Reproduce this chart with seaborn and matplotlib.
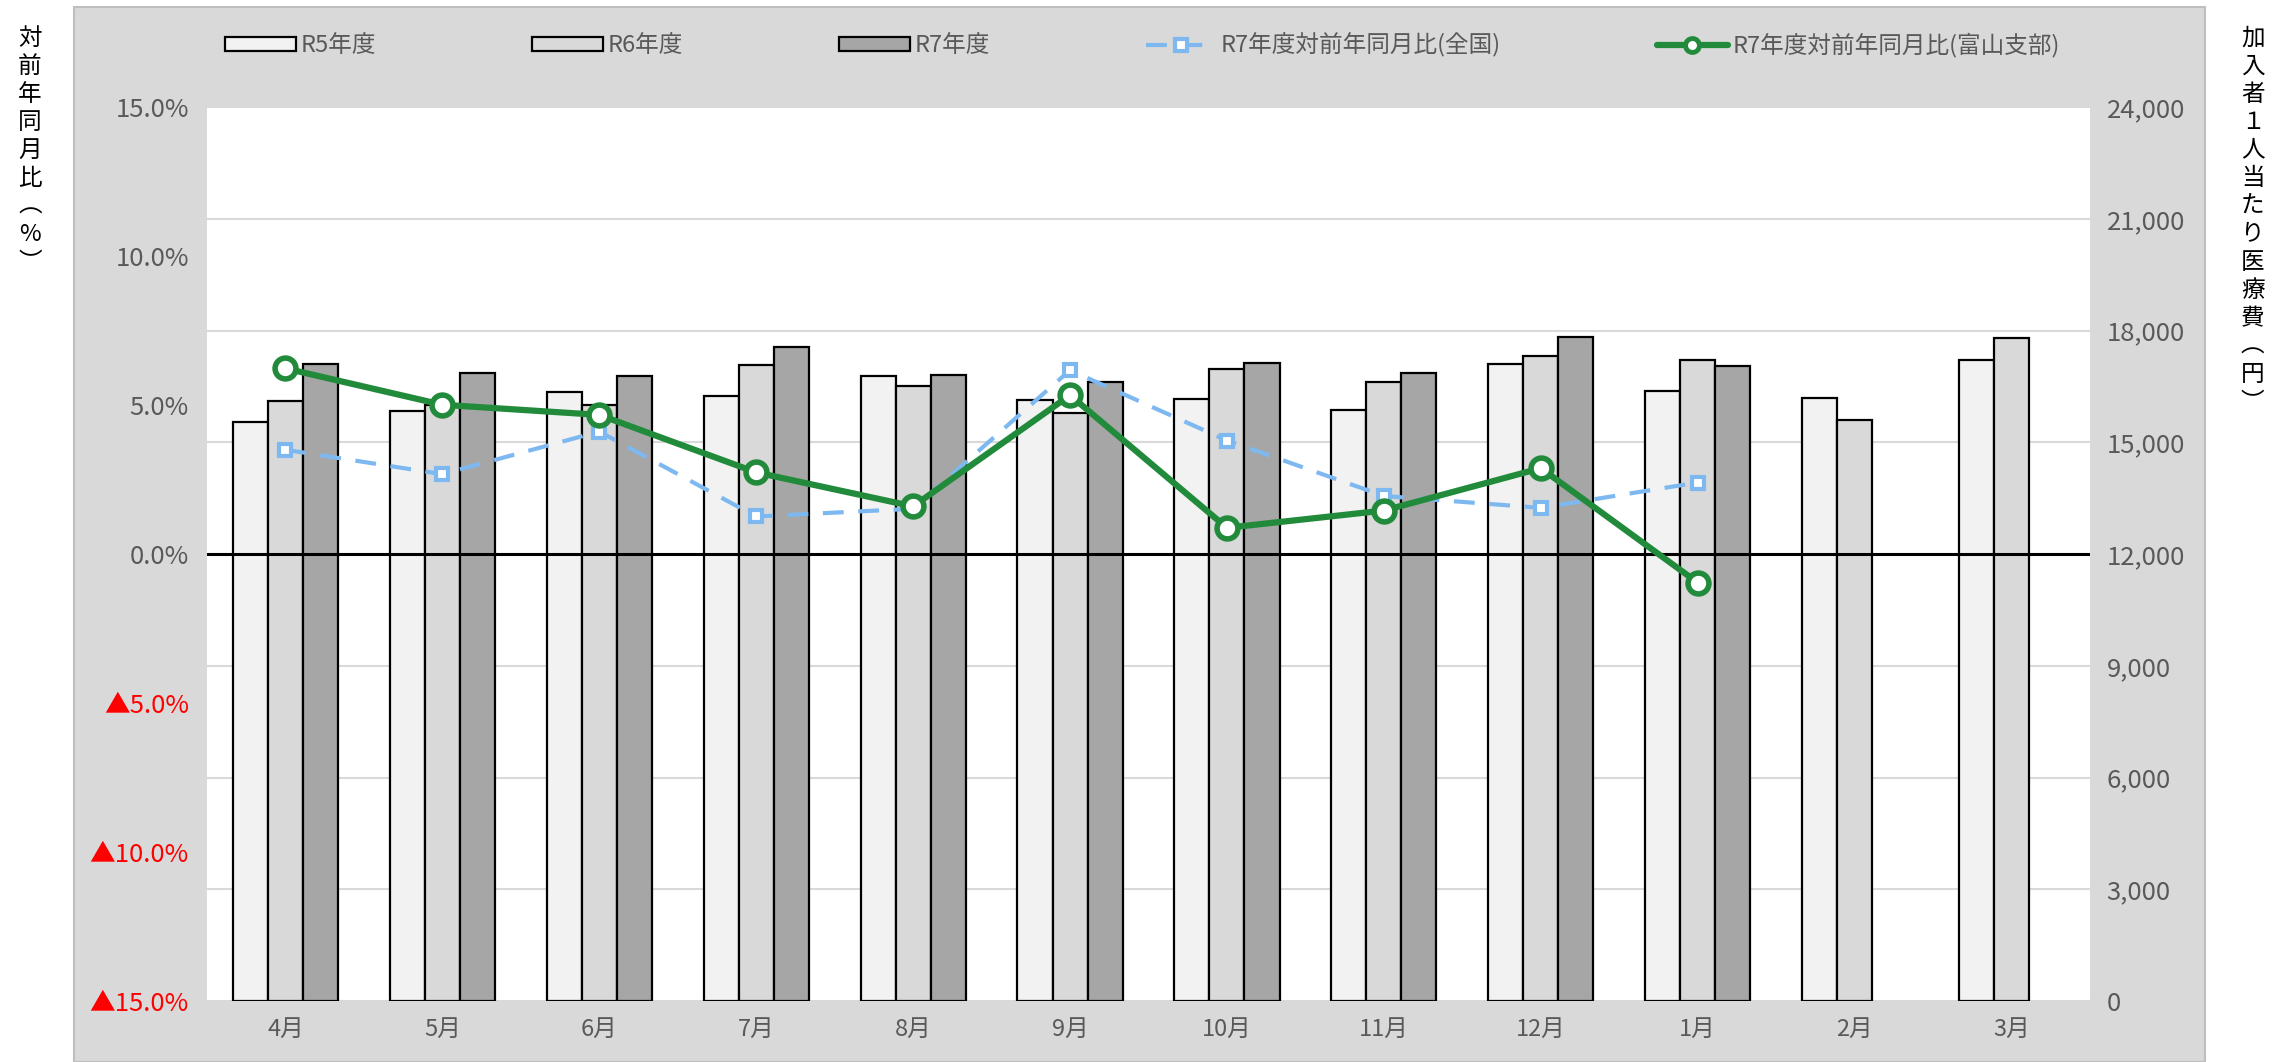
import numpy as np
import pandas as pd
import matplotlib as mpl
import matplotlib.pyplot as plt
import seaborn as sns
from matplotlib.patches import Patch, Rectangle
from matplotlib.lines import Line2D

months = ['4月', '5月', '6月', '7月', '8月', '9月', '10月', '11月', '12月', '1月', '2月', '3月']
years = ['R5年度', 'R6年度', 'R7年度']

# 加入者1人当たり医療費 (円)
cost_r5 = [15540, 15840, 16350, 16230, 16780, 16130, 16170, 15870, 17110, 16380, 16190, 17200]
cost_r6 = [16110, 16000, 16000, 17070, 16520, 15780, 16980, 16610, 17320, 17210, 15600, 17810]
cost_r7 = [17110, 16850, 16780, 17550, 16800, 16630, 17140, 16860, 17830, 17060, np.nan, np.nan]

# 対前年同月比 (%)
ratio_zenkoku = [3.50, 2.68, 4.11, 1.26, 1.52, 6.17, 3.81, 1.95, 1.55, 2.40]
ratio_toyama = [6.23, 5.01, 4.67, 2.74, 1.60, 5.33, 0.88, 1.46, 2.88, -0.96]

bar_colors = {'R5年度': '#F2F2F2', 'R6年度': '#D9D9D9', 'R7年度': '#A6A6A6'}
blue = '#7DB9F0'
green = '#228B3B'
tick_gray = '#595959'

df = pd.DataFrame({
    'month': months * 3,
    'year': [y for y in years for _ in months],
    'cost': cost_r5 + cost_r6 + cost_r7,
}).dropna()

sns.set_style('white')
plt.rcParams['font.family'] = ['Noto Sans CJK JP', 'DejaVu Sans']

fig = plt.figure(figsize=(22.94, 10.62), dpi=100)

# grey chart area
fig.patches.append(Rectangle((0.0323, 0.0), 0.929, 0.9934, transform=fig.transFigure,
                             facecolor='#D9D9D9', edgecolor='#BFBFBF', linewidth=1.5, zorder=-10))

ax = fig.add_axes([0.0902, 0.0574, 0.8209, 0.8418])
ax.set_facecolor('white')
sns.barplot(data=df, x='month', y='cost', hue='year', order=months, hue_order=years,
            palette=bar_colors, edgecolor='black', linewidth=1.6, width=0.67,
            errorbar=None, ax=ax, legend=False, zorder=2)
ax.set_ylim(0, 24000)
ax.set_yticks(np.arange(0, 24001, 3000))
ax.set_yticklabels([f'{v:,}' for v in range(0, 24001, 3000)])
ax.set_xlim(-0.5, len(months) - 0.5)
ax.grid(axis='y', color='#D9D9D9', linewidth=1.5)
ax.set_axisbelow(True)
ax.set_xlabel('')
ax.set_ylabel('')

ax2 = ax.twinx()
ax.yaxis.tick_right()
ax2.yaxis.tick_left()
ax2.patch.set_visible(False)

ax2.axhline(0, color='black', linewidth=2.2, zorder=1)
dash = (0, (5, 3.5))
sns.lineplot(x=np.arange(len(ratio_zenkoku)), y=ratio_zenkoku, ax=ax2, color=blue, linewidth=3,
             linestyle=dash, marker='s', markersize=9, markerfacecolor='white',
             markeredgecolor=blue, markeredgewidth=3, zorder=3)
sns.lineplot(x=np.arange(len(ratio_toyama)), y=ratio_toyama, ax=ax2, color=green, linewidth=4.5,
             marker='o', markersize=15, markerfacecolor='white',
             markeredgecolor=green, markeredgewidth=4, zorder=4)
ax2.set_ylim(-15, 15)
pct_ticks = np.arange(-15, 16, 5)
ax2.set_yticks(pct_ticks)
labels = [f'{v:.1f}%' if v >= 0 else f'▲{abs(v):.1f}%' for v in pct_ticks]
ax2.set_yticklabels(labels)
for lab, v in zip(ax2.get_yticklabels(), pct_ticks):
    lab.set_color('red' if v < 0 else tick_gray)
ax2.set_ylabel('')

for a in (ax, ax2):
    for sp in a.spines.values():
        sp.set_visible(False)
ax.tick_params(axis='x', length=0, pad=12, labelsize=17, labelcolor=tick_gray)
ax.tick_params(axis='y', length=0, pad=12, labelsize=18.5, labelcolor=tick_gray)
ax2.tick_params(axis='y', length=0, pad=13, labelsize=18.5)

handles = [Patch(facecolor=bar_colors[y], edgecolor='black', linewidth=1.6) for y in years]
handles.append(Line2D([], [], color=blue, linewidth=3, linestyle=dash, marker='s',
                      markersize=9, markerfacecolor='white', markeredgecolor=blue, markeredgewidth=3))
handles.append(Line2D([], [], color=green, linewidth=4.5, marker='o', markersize=10,
                      markerfacecolor='white', markeredgecolor=green, markeredgewidth=3.5))
leg_labels = years + ['R7年度対前年同月比(全国)', 'R7年度対前年同月比(富山支部)']
fig.legend(handles, leg_labels, loc='center left', bbox_to_anchor=(0.093, 0.9576), ncol=5,
           frameon=False, fontsize=17, labelcolor=tick_gray, handlelength=3.0, handleheight=0.5,
           handletextpad=0.2, columnspacing=6.6, borderpad=0)

left_title = '対前年同月比︵%︶'
right_title = '加入者１人当たり医療費︵円︶'
fig.text(0.013, 0.975, '\n'.join(left_title), ha='center', va='top', fontsize=17,
         linespacing=1.28, color='black')
fig.text(0.982, 0.975, '\n'.join(right_title), ha='center', va='top', fontsize=17,
         linespacing=1.28, color='black')

fig.savefig('out.png', dpi=100)
